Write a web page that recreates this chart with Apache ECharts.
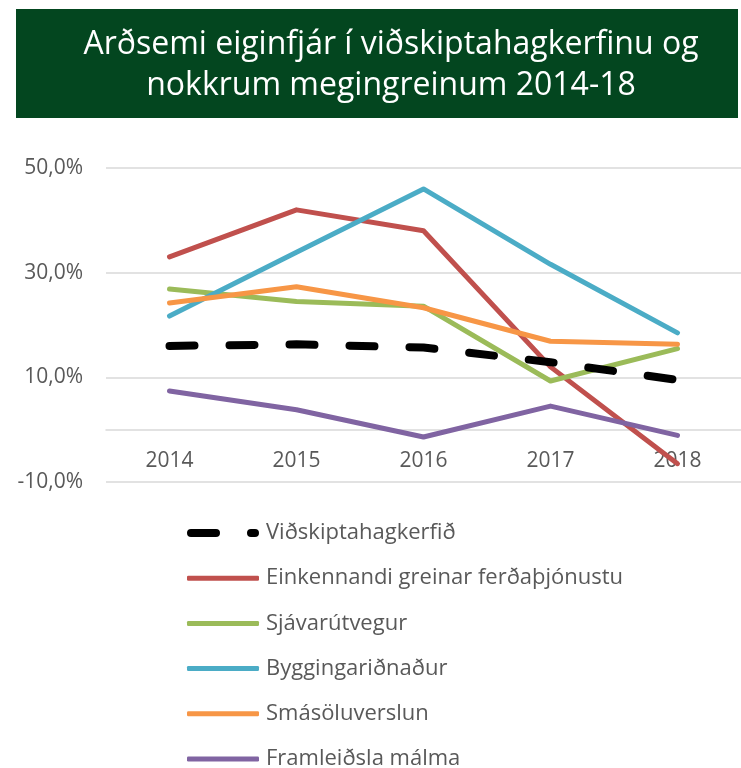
<!DOCTYPE html>
<html>
<head>
<meta charset="utf-8">
<script src="https://cdn.jsdelivr.net/npm/echarts@6/dist/echarts.min.js"></script>
<style>
  html, body { margin: 0; padding: 0; background: #fff; }
  #main { width: 741px; height: 768px; }
</style>
</head>
<body>
<div id="main"></div>
<script>
// ár
var years = ['2014', '2015', '2016', '2017', '2018'];
var seriesNames = ['Viðskiptahagkerfið', 'Einkennandi greinar ferðaþjónustu', 'Sjávarútvegur', 'Byggingariðnaður', 'Smásöluverslun', 'Framleiðsla málma'];
var vidskipti = [16.0, 16.3, 15.7, 12.9, 9.5];
var ferdathjonusta = [33.0, 42.0, 38.0, 12.0, -6.5];
var sjavarutvegur = [26.9, 24.5, 23.6, 9.3, 15.5];
var byggingar = [21.7, 33.9, 46.0, 31.6, 18.5];
var smasala = [24.2, 27.3, 23.3, 16.9, 16.3];
var malmar = [7.4, 3.8, -1.4, 4.5, -1.1];

var colors = ['#000000', '#C0504D', '#9BBB59', '#4BACC6', '#F79646', '#8064A2'];
var allData = [vidskipti, ferdathjonusta, sjavarutvegur, byggingar, smasala, malmar];
var font = 'Open Sans';

var chart = echarts.init(document.getElementById('main'));

var series = [];
var legends = [];
for (var i = 0; i < seriesNames.length; i++) {
  var ls = { color: colors[i], width: 5, cap: 'round', join: 'round' };
  if (i == 0) {
    ls.width = 8;
    ls.type = [25, 35];
  }
  series.push({
    name: seriesNames[i],
    type: 'line',
    data: allData[i],
    symbol: 'none',
    lineStyle: ls,
    itemStyle: { color: colors[i] },
    z: i == 0 ? 3 : 2
  });
  // ein þjóðsaga fyrir hverja línu svo hún brotni ekki í tvo dálka
  legends.push({
    orient: 'vertical',
    left: 187,
    top: 521 + i * 45.2,
    padding: 0,
    itemWidth: 72,
    itemHeight: i == 0 ? 8 : 5,
    icon: i == 0 ? 'path://M4,0 H29 A4,4 0 0 1 29,8 H4 A4,4 0 0 1 4,0 Z M64,0 H68 A4,4 0 0 1 68,8 H64 A4,4 0 0 1 64,0 Z' : 'roundRect',
    data: [seriesNames[i]],
    selectedMode: false,
    textStyle: { color: '#595959', fontFamily: font, fontSize: 22, lineHeight: 24, padding: [0, 0, 0, 2] }
  });
}

var option = {
  animation: false,
  color: colors,
  graphic: [{
    type: 'rect',
    shape: { x: 16, y: 9, width: 722, height: 109 },
    style: { fill: '#03461F' },
    z: 0
  }, {
    type: 'text',
    x: 391,
    y: 24,
    z: 10,
    style: {
      text: 'Arðsemi eiginfjár í viðskiptahagkerfinu og\nnokkrum megingreinum 2014-18',
      fill: '#ffffff',
      font: '32px "Open Sans"',
      lineHeight: 41,
      align: 'center',
      verticalAlign: 'top'
    }
  }],
  legend: legends,
  grid: { left: 106, width: 648, top: 168, height: 314 },
  xAxis: {
    type: 'category',
    data: years,
    boundaryGap: true,
    axisLine: { onZero: true, lineStyle: { color: '#D9D9D9', width: 1.5 } },
    axisTick: { show: false },
    axisLabel: { color: '#595959', fontFamily: font, fontSize: 21, margin: -31 }
  },
  yAxis: {
    type: 'value',
    min: -10,
    max: 50,
    interval: 20,
    axisLine: { show: false },
    axisTick: { show: false },
    splitLine: { lineStyle: { color: '#D9D9D9', width: 1.5 } },
    axisLabel: {
      color: '#595959', fontFamily: font, fontSize: 21, margin: 23,
      formatter: function (v) { return v.toFixed(1).replace('.', ',') + '%'; }
    }
  },
  series: series
};

chart.setOption(option);
</script>
</body>
</html>
